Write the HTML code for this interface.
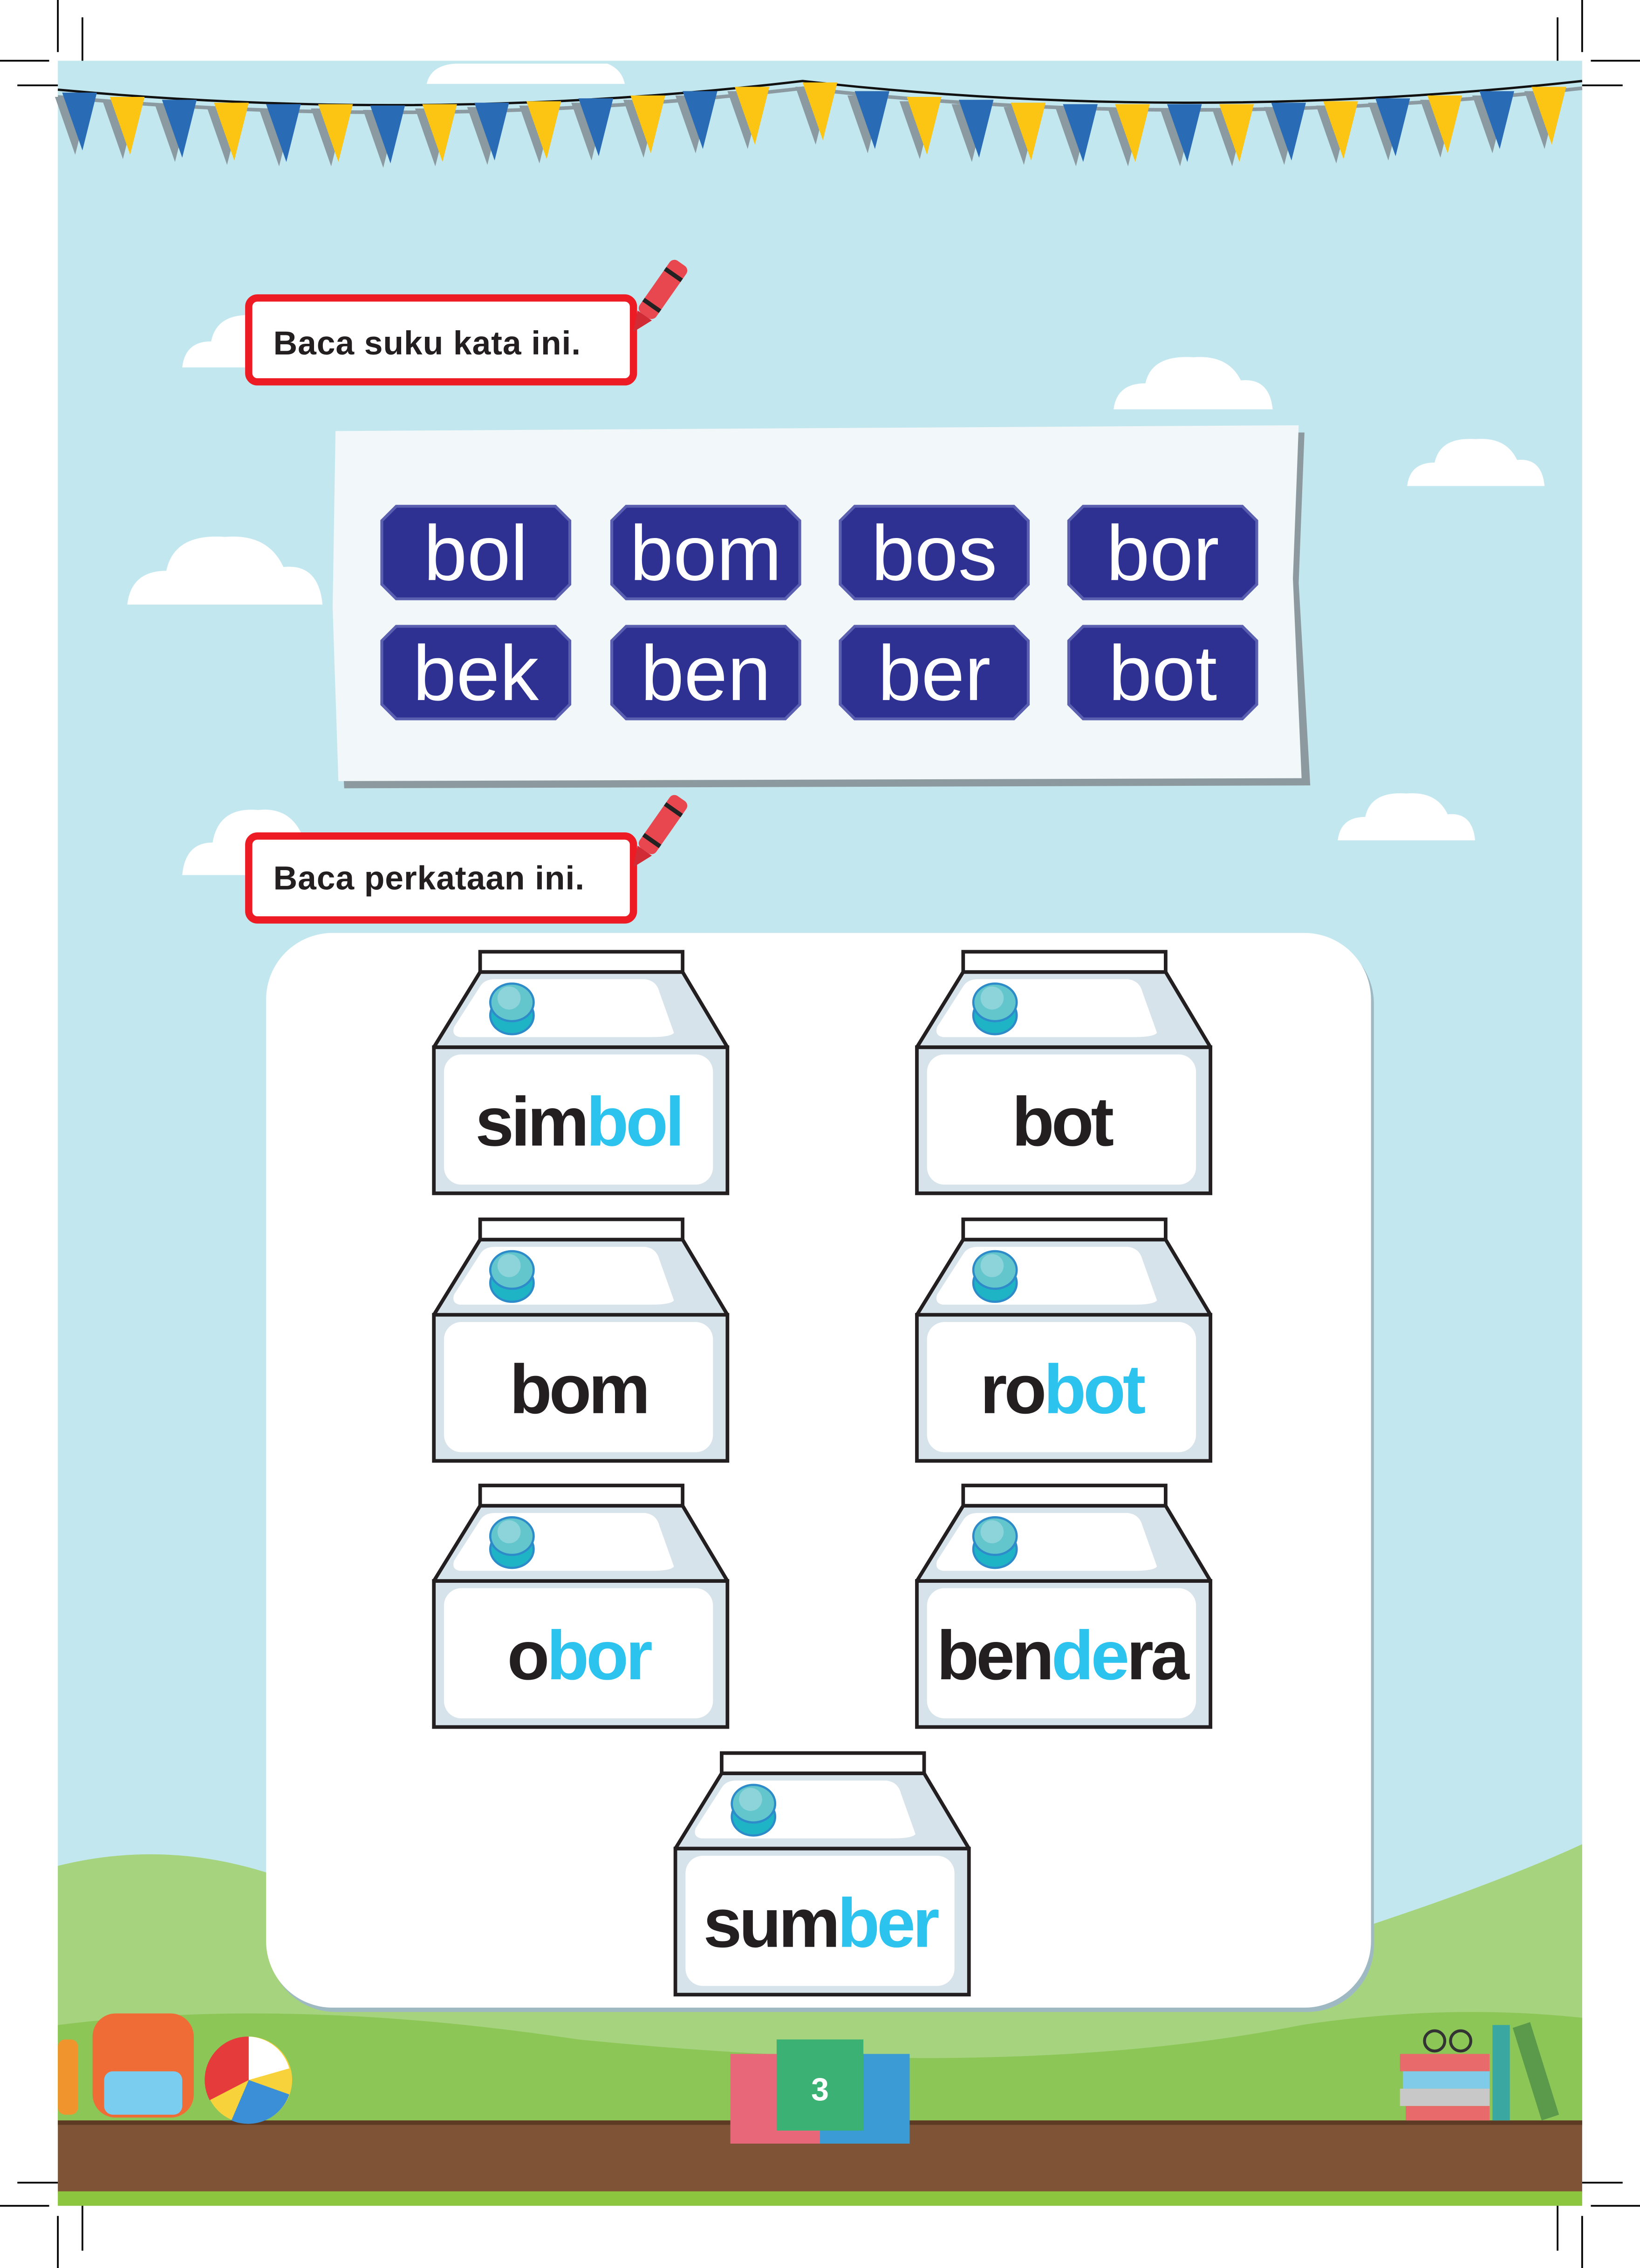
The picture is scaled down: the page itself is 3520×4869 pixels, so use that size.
<!DOCTYPE html>
<html><head><meta charset="utf-8"><style>html,body{margin:0;padding:0;background:#fff}svg{display:block}</style></head><body>
<svg width="3520" height="4869" viewBox="0 0 1134 1568" preserveAspectRatio="none" xmlns="http://www.w3.org/2000/svg">
<defs>
<g id="fb"><polygon points="-17,3 7,3 -3,43" fill="#8a9aa0"/><polygon points="-12,0 12,0 2,40" fill="#2a6bb5"/></g>
<g id="fy"><polygon points="-17,3 7,3 -3,43" fill="#8a9aa0"/><polygon points="-12,0 12,0 2,40" fill="#fdc513"/></g>
<g id="milk">
<polygon points="0,66 203,66 203,167 0,167" fill="#d6e3eb" stroke="#231f20" stroke-width="2.5"/>
<rect x="7" y="71" width="186" height="90" rx="12" fill="#fff"/>
<polygon points="32,14 172,14 203,66 0,66" fill="#d6e3eb" stroke="#231f20" stroke-width="2.5" stroke-linejoin="round"/>
<path d="M42,19 L146,19 Q154,20 156,28 L166,56 Q164,59 150,59 L18,59 Q12,58 14,52 L32,24 Q35,19 42,19Z" fill="#fff"/>
<rect x="32" y="0" width="140" height="14" fill="#fff" stroke="#231f20" stroke-width="2.5"/>
<ellipse cx="54" cy="44" rx="15" ry="13" fill="#1fb3c6" stroke="#2e8bc9" stroke-width="1.5"/>
<ellipse cx="54" cy="35" rx="15" ry="13" fill="#62c6cc" stroke="#2e8bc9" stroke-width="1.5"/>
<ellipse cx="52" cy="32" rx="8" ry="8" fill="#8cd3da"/>
</g>
<g id="btn"><path d="M10,0 L120,0 L130,10 L130,54 L120,64 L10,64 L0,54 L0,10Z" fill="#2e3192" stroke="#5b5fb0" stroke-width="2"/></g>
<g id="cloud"><path d="M0,40 Q2,22 20,22 Q24,2 50,4 Q72,2 80,20 Q98,18 100,40Z" fill="#fff"/></g>
</defs>
<rect x="0" y="0" width="1134" height="1568" fill="#fff"/>
<rect x="40" y="42" width="1054" height="1483" fill="#c3e7ef"/>
<path d="M295,58 Q298,45 315,44 L420,44 Q430,48 432,58Z" fill="#fff"/>
<use href="#cloud" transform="translate(126,214) scale(1,1)"/>
<use href="#cloud" transform="translate(770,243) scale(1.1,1)"/>
<use href="#cloud" transform="translate(973,300) scale(0.95,0.9)"/>
<use href="#cloud" transform="translate(88,366) scale(1.35,1.3)"/>
<use href="#cloud" transform="translate(126,555) scale(1.05,1.25)"/>
<use href="#cloud" transform="translate(925,545) scale(0.95,0.9)"/>
<path d="M40,62 Q300,86 555,56 Q820,86 1094,56" fill="none" stroke="#8a9aa0" stroke-width="2.5" transform="translate(0,5)"/>
<path d="M40,62 Q300,86 555,56 Q820,86 1094,56" fill="none" stroke="#111" stroke-width="1.6"/>
<use href="#fb" x="55" y="64"/><use href="#fy" x="88" y="67"/><use href="#fb" x="124" y="69"/><use href="#fy" x="160" y="71"/><use href="#fb" x="196" y="72"/><use href="#fy" x="232" y="72"/><use href="#fb" x="268" y="73"/><use href="#fy" x="304" y="72"/><use href="#fb" x="340" y="71"/><use href="#fy" x="376" y="70"/><use href="#fb" x="412" y="68"/><use href="#fy" x="448" y="66"/><use href="#fb" x="484" y="63"/><use href="#fy" x="520" y="60"/>
<use href="#fy" x="567" y="57"/><use href="#fb" x="603" y="63"/><use href="#fy" x="639" y="67"/><use href="#fb" x="675" y="69"/><use href="#fy" x="711" y="71"/><use href="#fb" x="747" y="72"/><use href="#fy" x="783" y="72"/><use href="#fb" x="819" y="72"/><use href="#fy" x="855" y="72"/><use href="#fb" x="891" y="71"/><use href="#fy" x="927" y="70"/><use href="#fb" x="963" y="68"/><use href="#fy" x="999" y="66"/><use href="#fb" x="1035" y="63"/><use href="#fy" x="1071" y="60"/>
<path d="M40,1290 Q120,1270 200,1300 Q320,1330 420,1360 L700,1360 Q850,1330 950,1330 Q1040,1300 1094,1275 L1094,1470 L40,1470Z" fill="#a6d37e"/>
<path d="M40,1400 Q200,1380 400,1410 Q700,1440 900,1400 Q1000,1385 1094,1395 L1094,1470 L40,1470Z" fill="#8cc657"/>
<rect x="40" y="1466" width="1054" height="50" fill="#7f5436"/>
<rect x="40" y="1466" width="1054" height="3" fill="#5c3a24"/>
<rect x="40" y="1515" width="1054" height="10" fill="#8cc63f"/>
<rect x="172" y="206" width="266" height="58" rx="6" fill="#fff" stroke="#ed1c24" stroke-width="5"/>
<text x="189" y="245" font-family="Liberation Sans, sans-serif" font-weight="bold" font-size="23" letter-spacing="0.3" fill="#231f20">Baca suku kata ini.</text>
<g transform="translate(455,205) rotate(35)"><rect x="-7" y="-28" width="14" height="44" rx="4" fill="#e9474f"/><rect x="-7" y="-20" width="14" height="3" fill="#222"/><rect x="-7" y="6" width="14" height="3" fill="#222"/><polygon points="-6,16 6,16 0,30" fill="#d12c35"/></g>
<path d="M232,300 L900,296 L896,400 L904,540 L236,542 L230,420Z" fill="#8c9aa0" transform="translate(2,3)"/>
<path d="M232,298 L898,294 L894,400 L900,538 L234,540 L230,420Z" fill="#f2f7f9"/>
<g font-family="Liberation Sans, sans-serif" font-size="54" fill="#fff" text-anchor="middle">
<use href="#btn" x="264" y="350"/><use href="#btn" x="423" y="350"/><use href="#btn" x="581" y="350"/><use href="#btn" x="739" y="350"/>
<use href="#btn" x="264" y="433"/><use href="#btn" x="423" y="433"/><use href="#btn" x="581" y="433"/><use href="#btn" x="739" y="433"/>
<text x="329" y="401">bol</text><text x="488" y="401">bom</text><text x="646" y="401">bos</text><text x="804" y="401">bor</text>
<text x="329" y="484">bek</text><text x="488" y="484">ben</text><text x="646" y="484">ber</text><text x="804" y="484">bot</text>
</g>
<rect x="172" y="578" width="266" height="58" rx="6" fill="#fff" stroke="#ed1c24" stroke-width="5"/>
<text x="189" y="615" font-family="Liberation Sans, sans-serif" font-weight="bold" font-size="23" letter-spacing="0.3" fill="#231f20">Baca perkataan ini.</text>
<g transform="translate(455,575) rotate(35)"><rect x="-7" y="-28" width="14" height="44" rx="4" fill="#e9474f"/><rect x="-7" y="-20" width="14" height="3" fill="#222"/><rect x="-7" y="6" width="14" height="3" fill="#222"/><polygon points="-6,16 6,16 0,30" fill="#d12c35"/></g>
<rect x="186" y="648" width="764" height="743" rx="46" fill="#9fb9c2"/>
<rect x="184" y="645" width="764" height="743" rx="46" fill="#fff"/>
<use href="#milk" x="300" y="658"/><use href="#milk" x="634" y="658"/>
<use href="#milk" x="300" y="843"/><use href="#milk" x="634" y="843"/>
<use href="#milk" x="300" y="1027"/><use href="#milk" x="634" y="1027"/>
<use href="#milk" x="467" y="1212"/>
<g font-family="Liberation Sans, sans-serif" font-weight="bold" font-size="48" letter-spacing="-2" fill="#231f20" text-anchor="middle">
<text x="400" y="792">sim<tspan fill="#2dc3ef">bol</tspan></text>
<text x="734" y="792">bot</text>
<text x="400" y="977">bom</text>
<text x="734" y="977">ro<tspan fill="#2dc3ef">bot</tspan></text>
<text x="400" y="1161">o<tspan fill="#2dc3ef">bor</tspan></text>
<text x="734" y="1161">ben<tspan fill="#2dc3ef">de</tspan>ra</text>
<text x="567" y="1346">sum<tspan fill="#2dc3ef">ber</tspan></text>
</g>
<rect x="505" y="1420" width="62" height="62" fill="#e8687a"/>
<rect x="567" y="1420" width="62" height="62" fill="#3a9bd5"/>
<rect x="537" y="1410" width="60" height="63" fill="#3bb273"/>
<text x="567" y="1452" font-family="Liberation Sans, sans-serif" font-weight="bold" font-size="22" fill="#fff" text-anchor="middle">3</text>
<rect x="64" y="1392" width="70" height="72" rx="16" fill="#ef6c36"/>
<rect x="72" y="1432" width="54" height="30" rx="6" fill="#7bcdf0"/>
<rect x="40" y="1410" width="14" height="52" rx="5" fill="#f0952e"/>
<circle cx="172" cy="1438" r="30" fill="#f7d23a"/>
<path d="M172,1408 A30,30 0 0 0 145,1452 L172,1438Z" fill="#e63b3b"/>
<path d="M172,1438 L200,1430 A30,30 0 0 0 172,1408Z" fill="#fff"/>
<path d="M172,1438 L160,1466 A30,30 0 0 0 200,1448Z" fill="#3b8fd6"/>
<rect x="968" y="1420" width="62" height="12" fill="#e86a6a"/>
<rect x="970" y="1432" width="60" height="12" fill="#7fcbe8"/>
<rect x="968" y="1444" width="62" height="12" fill="#c8c8c8"/>
<rect x="972" y="1456" width="58" height="10" fill="#e86a6a"/>
<rect x="1032" y="1400" width="12" height="66" fill="#3aa7a0"/>
<polygon points="1046,1402 1058,1398 1078,1462 1066,1466" fill="#5a9a4a"/>
<circle cx="992" cy="1411" r="7" fill="none" stroke="#333" stroke-width="2"/><circle cx="1010" cy="1411" r="7" fill="none" stroke="#333" stroke-width="2"/>
<g stroke="#000" stroke-width="1.2">
<line x1="40" y1="0" x2="40" y2="36"/><line x1="57" y1="12" x2="57" y2="42"/><line x1="0" y1="42" x2="34" y2="42"/><line x1="12" y1="59" x2="40" y2="59"/>
<line x1="1094" y1="0" x2="1094" y2="36"/><line x1="1077" y1="12" x2="1077" y2="42"/><line x1="1100" y1="42" x2="1134" y2="42"/><line x1="1094" y1="59" x2="1122" y2="59"/>
<line x1="40" y1="1532" x2="40" y2="1568"/><line x1="57" y1="1525" x2="57" y2="1556"/><line x1="0" y1="1525" x2="34" y2="1525"/><line x1="12" y1="1509" x2="40" y2="1509"/>
<line x1="1094" y1="1532" x2="1094" y2="1568"/><line x1="1077" y1="1525" x2="1077" y2="1556"/><line x1="1100" y1="1525" x2="1134" y2="1525"/><line x1="1094" y1="1509" x2="1122" y2="1509"/>
</g>
</svg>
</body></html>
